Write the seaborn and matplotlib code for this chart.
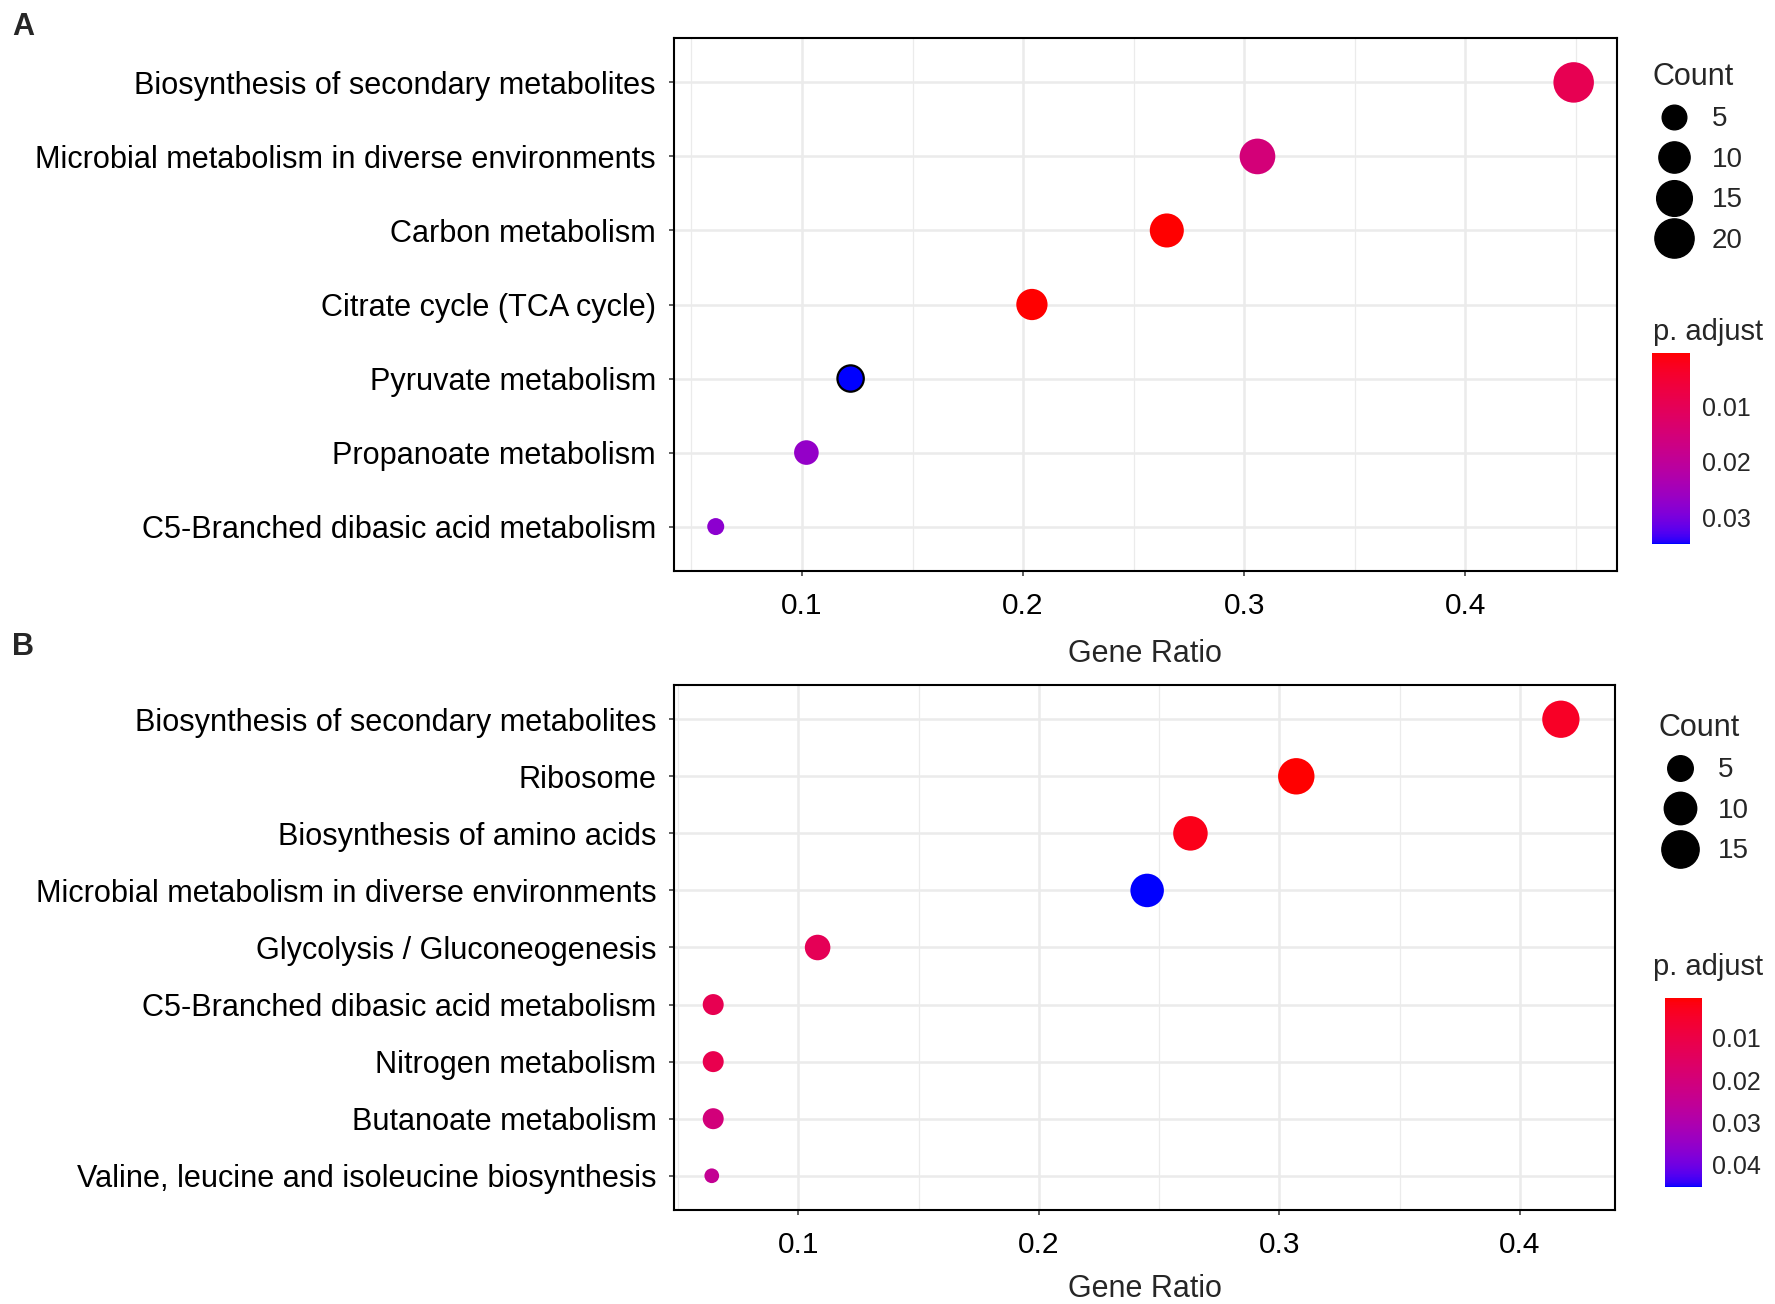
import numpy as np
import pandas as pd
import matplotlib
matplotlib.use("Agg")
import matplotlib.pyplot as plt
import seaborn as sns
from matplotlib.colors import ListedColormap, Normalize
from matplotlib.cm import ScalarMappable
from matplotlib.lines import Line2D
from matplotlib.ticker import MultipleLocator

# Panel A data
a_pathways = ["Biosynthesis of secondary metabolites",
              "Microbial metabolism in diverse environments",
              "Carbon metabolism",
              "Citrate cycle (TCA cycle)",
              "Pyruvate metabolism",
              "Propanoate metabolism",
              "C5-Branched dibasic acid metabolism"]
a_ratio = [0.449, 0.306, 0.265, 0.204, 0.122, 0.102, 0.061]
a_count = [22, 15, 13, 10, 6, 5, 3]
a_padj = [0.0094, 0.0150, 0.0003, 0.0002, 0.0349, 0.0270, 0.0280]
a_count_breaks = [5, 10, 15, 20]
a_padj_breaks = [0.01, 0.02, 0.03]

# Panel B data
b_pathways = ["Biosynthesis of secondary metabolites",
              "Ribosome",
              "Biosynthesis of amino acids",
              "Microbial metabolism in diverse environments",
              "Glycolysis / Gluconeogenesis",
              "C5-Branched dibasic acid metabolism",
              "Nitrogen metabolism",
              "Butanoate metabolism",
              "Valine, leucine and isoleucine biosynthesis"]
b_ratio = [0.417, 0.307, 0.263, 0.245, 0.108, 0.0646, 0.0646, 0.0646, 0.064]
b_count = [15, 14, 12, 11, 5, 3, 3, 3, 2]
b_padj = [0.0045, 0.0006, 0.0028, 0.0453, 0.0130, 0.0120, 0.0115, 0.0200, 0.0250]
b_count_breaks = [5, 10, 15]
b_padj_breaks = [0.01, 0.02, 0.03, 0.04]

W, H = 1775, 1304
DPI = 100

sns.set_style("white")
plt.rcParams["font.family"] = ["Liberation Sans", "DejaVu Sans"]

# red -> blue gradient interpolated in Lab space (like ggplot's scale_color_continuous)
M = np.array([[0.4124, 0.3576, 0.1805],
              [0.2126, 0.7152, 0.0722],
              [0.0193, 0.1192, 0.9505]])
WHITE = np.array([0.95047, 1.0, 1.08883])


def to_lab(rgb):
    c = np.array(rgb, float)
    lin = np.where(c <= 0.04045, c / 12.92, ((c + 0.055) / 1.055) ** 2.4)
    xyz = M @ lin / WHITE
    f = np.where(xyz > 0.008856, np.cbrt(xyz), 7.787 * xyz + 16 / 116)
    return np.array([116 * f[1] - 16, 500 * (f[0] - f[1]), 200 * (f[1] - f[2])])


def to_rgb(lab):
    fy = (lab[0] + 16) / 116
    f = np.array([fy + lab[1] / 500, fy, fy - lab[2] / 200])
    xyz = np.where(f ** 3 > 0.008856, f ** 3, (f - 16 / 116) / 7.787) * WHITE
    lin = np.clip(np.linalg.solve(M, xyz), 0, 1)
    srgb = np.where(lin <= 0.0031308, 12.92 * lin, 1.055 * lin ** (1 / 2.4) - 0.055)
    return np.clip(srgb, 0, 1)


lo, hi = to_lab([1, 0, 0]), to_lab([0, 0, 1])
cmap = ListedColormap([to_rgb(lo + t * (hi - lo)) for t in np.linspace(0, 1, 256)])


def box(l, t, r, b):
    return [l / W, 1 - b / H, (r - l) / W, (b - t) / H]


def size_lookup(levels, cmin, cmax, dmin, dmax):
    # ggplot area palette: diameter grows with sqrt of rescaled count
    out = {}
    for c in levels:
        d = dmin + np.sqrt((c - cmin) / (cmax - cmin)) * (dmax - dmin)
        out[c] = (d * 72 / DPI) ** 2
    return out


def draw_panel(ax, cax, pathways, ratio, count, padj, count_breaks, padj_breaks,
               xlim, dmin, dmax, leg_anchor, cbar_title_xy, cb_pad, xlabelpad):
    df = pd.DataFrame({"Description": pathways, "GeneRatio": ratio,
                       "Count": count, "p.adjust": padj})
    cmin, cmax = min(count), max(count)
    sizes = size_lookup(sorted(set(count) | set(count_breaks)), cmin, cmax, dmin, dmax)
    norm = Normalize(min(padj), max(padj))

    sns.scatterplot(data=df, x="GeneRatio", y="Description", hue="p.adjust",
                    size="Count", sizes=sizes, hue_norm=norm, palette=cmap,
                    linewidth=0, legend=False, ax=ax, zorder=3)

    n = len(pathways)
    ax.set_ylim(n - 1 + 0.6, -0.6)
    ax.set_xlim(*xlim)
    ax.set_xticks([0.1, 0.2, 0.3, 0.4])
    ax.xaxis.set_minor_locator(MultipleLocator(0.05))
    ax.set_axisbelow(True)
    ax.grid(which="major", color="#EBEBEB", linewidth=1.8)
    ax.grid(which="minor", axis="x", color="#EBEBEB", linewidth=0.9)
    ax.tick_params(which="minor", length=0)
    ax.tick_params(which="major", direction="out", length=3.6, width=1.1,
                   color="#333333", labelcolor="black")
    ax.tick_params(axis="y", labelsize=22.1, left=True, pad=9)
    ax.tick_params(axis="x", labelsize=21.5, bottom=True, pad=11.5)
    for s in ax.spines.values():
        s.set_visible(True)
        s.set_color("black")
        s.set_linewidth(1.5)
    ax.set_ylabel("")
    ax.set_xlabel("Gene Ratio", fontsize=22, labelpad=xlabelpad)

    # colour bar (low p.adjust on top)
    sm = ScalarMappable(norm=norm, cmap=cmap)
    cb = fig.colorbar(sm, cax=cax)
    cb.outline.set_visible(False)
    cax.invert_yaxis()
    cb.set_ticks(padj_breaks)
    cb.set_ticklabels([f"{v:.2f}" for v in padj_breaks])
    cax.tick_params(axis="y", direction="in", color="white", length=6, width=1.2,
                    left=True, right=True, labelleft=False, labelright=True,
                    labelsize=18, pad=cb_pad)
    fig.text(cbar_title_xy[0] / W, 1 - cbar_title_xy[1] / H, "p. adjust",
             fontsize=21, va="baseline", ha="left")

    # size legend
    handles = [Line2D([], [], marker="o", linestyle="", color="black",
                      markersize=np.sqrt(sizes[c])) for c in count_breaks]
    fig.legend(handles, [str(c) for c in count_breaks], title="Count",
               loc="upper left", bbox_to_anchor=(leg_anchor[0] / W, 1 - leg_anchor[1] / H),
               frameon=False, fontsize=20, title_fontsize=22, alignment="left",
               handlelength=1.6, handletextpad=0.55, labelspacing=0.52,
               borderpad=0, borderaxespad=0)


fig = plt.figure(figsize=(W / DPI, H / DPI), dpi=DPI)
ax_a = fig.add_axes(box(673.5, 38, 1617, 571))
cax_a = fig.add_axes(box(1652, 353, 1690, 544))
ax_b = fig.add_axes(box(674, 685, 1615, 1210))
cax_b = fig.add_axes(box(1665, 998, 1702, 1187))

draw_panel(ax_a, cax_a, a_pathways, a_ratio, a_count, a_padj, a_count_breaks,
           a_padj_breaks, (0.0419, 0.4686), 17, 40.5, (1652, 62), (1653, 340), 8.4, 14)
draw_panel(ax_b, cax_b, b_pathways, b_ratio, b_count, b_padj, b_count_breaks,
           b_padj_breaks, (0.0483, 0.4395), 14.7, 37.3, (1658, 713), (1653, 975), 7.5, 10.5)

# the Pyruvate dot carries a black outline in the source figure
pts = ax_a.collections[0]
lw = np.zeros(len(a_pathways))
lw[a_pathways.index("Pyruvate metabolism")] = 1.6
pts.set_linewidths(lw)
pts.set_edgecolor("black")

fig.text(12 / W, 1 - 12 / H, "A", fontsize=22, fontweight="bold", va="top", ha="left")
fig.text(12 / W, 1 - 632 / H, "B", fontsize=22, fontweight="bold", va="top", ha="left")

fig.savefig("out.png", dpi=DPI)
